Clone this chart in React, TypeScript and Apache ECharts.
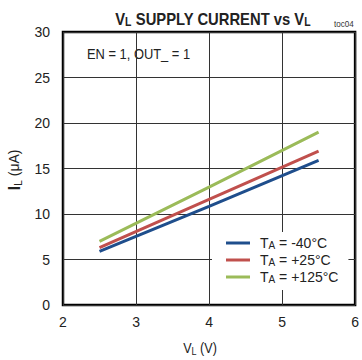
import React, { useEffect, useRef } from "react";
import * as echarts from "echarts";

const tempLabels = ["-40°C", "+25°C", "+125°C"];
const vlValues = [2.5, 4, 5.5];
const iMinus40 = [5.9, 10.85, 15.9];
const iPlus25 = [6.3, 11.6, 16.9];
const iPlus125 = [7.0, 12.95, 19.0];
const seriesColors = ["#1f4e8c", "#c0504d", "#9bbb59"];
const xTicks = { min: 2, max: 6, interval: 1 };
const yTicks = { min: 0, max: 30, interval: 5 };

const FONT = "'Liberation Sans', Arial, sans-serif";

export default function App() {
  const ref = useRef<HTMLDivElement>(null);
  useEffect(() => {
    if (!ref.current) return;
    const chart = echarts.init(ref.current, null, { renderer: "svg" });
    const data = [iMinus40, iPlus25, iPlus125];
    const option: any = {
      animation: false,
      backgroundColor: "#fff",
      textStyle: { fontFamily: FONT },
      grid: { left: 63, right: 6, top: 32, bottom: 55, show: true, borderColor: "#000", borderWidth: 2.5, backgroundColor: "transparent" },
      xAxis: {
        type: "value",
        min: xTicks.min,
        max: xTicks.max,
        interval: xTicks.interval,
        axisLine: { show: false },
        axisTick: { show: false },
        axisLabel: { fontSize: 14, color: "#222", margin: 10, fontFamily: FONT },
        splitLine: { show: true, lineStyle: { color: "#333", width: 1 } },
      },
      yAxis: {
        type: "value",
        min: yTicks.min,
        max: yTicks.max,
        interval: yTicks.interval,
        axisLine: { show: false },
        axisTick: { show: false },
        axisLabel: { fontSize: 14, color: "#222", margin: 13, fontFamily: FONT },
        splitLine: { show: true, lineStyle: { color: "#333", width: 1 } },
      },
      legend: {
        orient: "vertical",
        left: 212,
        top: 232,
        padding: [4, 10, 6, 14],
        backgroundColor: "#fff",
        itemWidth: 24,
        itemHeight: 3,
        itemGap: 3,
        icon: "rect",
        data: tempLabels.map((t) => "T_A = " + t),
        formatter: (name: string) => "{t|T}{s|A}{t| " + name.slice(4) + "}",
        textStyle: {
          fontFamily: FONT,
          padding: [0, 0, 0, 5],
          rich: {
            t: { fontSize: 14, color: "#222", fontFamily: FONT, lineHeight: 14 },
            s: { fontSize: 10, color: "#222", fontFamily: FONT, verticalAlign: "bottom", lineHeight: 7 },
          },
        },
      },
      series: data.map((arr, i) => ({
        type: "line",
        name: "T_A = " + tempLabels[i],
        data: vlValues.map((v, j) => [v, arr[j]]),
        showSymbol: false,
        symbol: "none",
        color: seriesColors[i],
        lineStyle: { color: seriesColors[i], width: 3 },
      })),
      graphic: [
        {
          type: "text",
          x: 213,
          y: 19,
          scaleX: 0.87,
          style: {
            text: "{b|V}{bs|L}{b| SUPPLY CURRENT vs V}{bs|L}",
            align: "center",
            verticalAlign: "middle",
            fontFamily: FONT,
            rich: {
              b: { fontSize: 17, fontWeight: "bold", fill: "#222", fontFamily: FONT, lineHeight: 18 },
              bs: { fontSize: 12, fontWeight: "bold", fill: "#222", fontFamily: FONT, verticalAlign: "bottom", lineHeight: 9 },
            },
          },
        },
        {
          type: "text",
          x: 334,
          y: 19,
          scaleX: 0.9,
          style: { text: "toc04", fontSize: 9, fill: "#333", fontFamily: FONT },
        },
        {
          type: "rect",
          shape: { x: 72, y: 38, width: 124, height: 37 },
          style: { fill: "#fff" },
        },
        {
          type: "text",
          x: 87,
          y: 54,
          scaleX: 0.86,
          style: { text: "EN = 1, OUT_ = 1", fontSize: 15, fill: "#222", fontFamily: FONT, verticalAlign: "middle" },
        },
        {
          type: "text",
          x: 14,
          y: 170,
          rotation: Math.PI / 2,
          style: {
            text: "{b|I}{s|L}{t| (μA)}",
            align: "center",
            verticalAlign: "middle",
            fontFamily: FONT,
            rich: {
              b: { fontSize: 17, fontWeight: "bold", fill: "#222", fontFamily: FONT, lineHeight: 18 },
              s: { fontSize: 10, fill: "#222", fontFamily: FONT, verticalAlign: "bottom", lineHeight: 9 },
              t: { fontSize: 14, fill: "#222", fontFamily: FONT, lineHeight: 18 },
            },
          },
        },
        {
          type: "text",
          x: 200,
          y: 348,
          scaleX: 0.9,
          style: {
            text: "{t|V}{s|L}{t| (V)}",
            align: "center",
            verticalAlign: "middle",
            fontFamily: FONT,
            rich: {
              t: { fontSize: 14, fill: "#222", fontFamily: FONT, lineHeight: 16 },
              s: { fontSize: 10, fill: "#222", fontFamily: FONT, verticalAlign: "bottom", lineHeight: 8 },
            },
          },
        },
      ],
    };
    chart.setOption(option);
    return () => chart.dispose();
  }, []);
  return <div ref={ref} style={{ width: 362, height: 360, position: "absolute", left: 0, top: 0 }} />;
}
